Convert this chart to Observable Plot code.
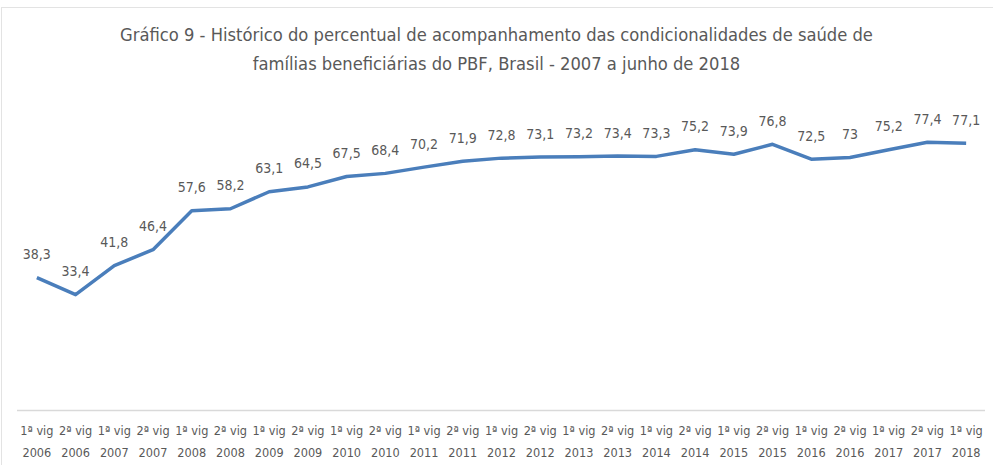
<!DOCTYPE html>
<html>
<head>
<meta charset="utf-8">
<script src="https://cdn.jsdelivr.net/npm/d3@7"></script>
<script src="https://cdn.jsdelivr.net/npm/@observablehq/plot@0.6"></script>
<style>
  html, body { margin: 0; padding: 0; background: #fff; }
  #wrap { position: relative; width: 993px; height: 465px; overflow: hidden; background: #fff; }
  #frame { position: absolute; left: 1px; top: 7px; width: 1000px; height: 470px; border-left: 1px solid #e3e3e3; border-top: 1px solid #e3e3e3; pointer-events: none; }
  #title { height: 80px; box-sizing: border-box; padding-top: 20px; text-align: center; color: #595959;
    font-family: "DejaVu Sans Condensed", "DejaVu Sans", sans-serif; font-stretch: condensed;
    font-size: 18.2px; line-height: 29px; }
  svg { display: block; }
</style>
</head>
<body>
<div id="wrap">
  <div id="frame"></div>
  <div id="title">Gráfico 9 - Histórico do percentual de acompanhamento das condicionalidades de saúde de<br>famílias beneficiárias do PBF, Brasil - 2007 a junho de 2018</div>
  <div id="chart"></div>
</div>
<script>
const periods = ["1ª vig","2ª vig","1ª vig","2ª vig","1ª vig","2ª vig","1ª vig","2ª vig","1ª vig","2ª vig","1ª vig","2ª vig","1ª vig","2ª vig","1ª vig","2ª vig","1ª vig","2ª vig","1ª vig","2ª vig","1ª vig","2ª vig","1ª vig","2ª vig","1ª vig"];
const years = ["2006","2006","2007","2007","2008","2008","2009","2009","2010","2010","2011","2011","2012","2012","2013","2013","2014","2014","2015","2015","2016","2016","2017","2017","2018"];
const values = [38.3,33.4,41.8,46.4,57.6,58.2,63.1,64.5,67.5,68.4,70.2,71.9,72.8,73.1,73.2,73.4,73.3,75.2,73.9,76.8,72.5,73,75.2,77.4,77.1];

const keys = periods.map((p, i) => p + "\n" + years[i]);
const data = keys.map((k, i) => ({i, key: k, value: values[i]}));
const fmt = v => String(v).replace(".", ",");
const font = '"DejaVu Sans Condensed", "DejaVu Sans", sans-serif';

const chart = Plot.plot({
  width: 993,
  height: 385,
  marginLeft: 17,
  marginRight: 8,
  marginTop: 18,
  marginBottom: 55,
  style: {fontFamily: font, fontSize: "14px", color: "#595959", background: "transparent", fontStretch: "condensed"},
  x: {type: "linear", domain: [-0.5, keys.length - 0.5], label: null},
  y: {domain: [0, 90], axis: null},
  marks: [
    Plot.ruleY([0], {stroke: "#d9d9d9", strokeWidth: 1.5}),
    Plot.axisX({ticks: d3.range(keys.length), tickSize: 0, tickPadding: 9, fill: "#595959", fontSize: 12.6, lineHeight: 1.72, tickFormat: i => keys[i], label: null}),
    Plot.line(data, {x: "i", y: "value", stroke: "#4a7ebb", strokeWidth: 3.5, strokeLinejoin: "round", strokeLinecap: "butt"}),
    Plot.text(data, {x: "i", y: "value", text: d => fmt(d.value), dy: -23, fill: "#595959", fontSize: 14})
  ]
});
document.getElementById("chart").appendChild(chart);
</script>
</body>
</html>
